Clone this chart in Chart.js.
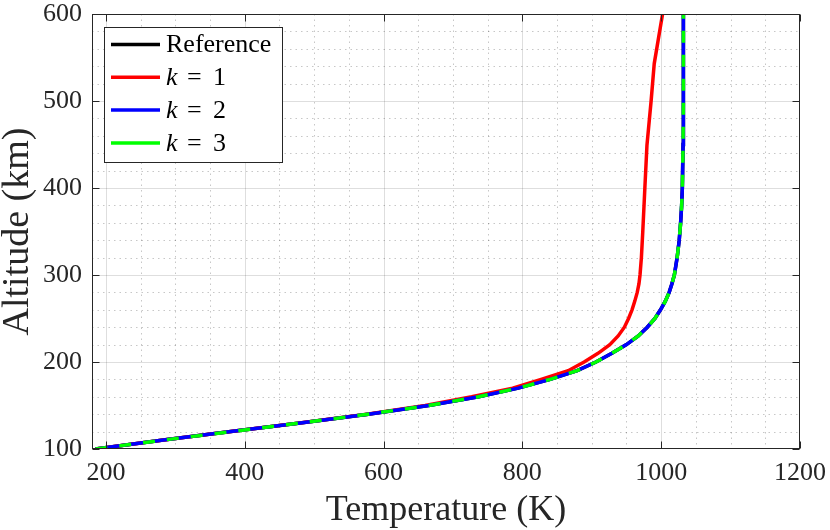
<!DOCTYPE html>
<html><head><meta charset="utf-8">
<script src="https://cdn.jsdelivr.net/npm/chart.js@4"></script>
<style>html,body{margin:0;padding:0;background:#fff;}#wrap{width:830px;height:530px;}</style>
</head><body><div id="wrap"><canvas id="c" width="830" height="530"></canvas></div>
<script>
// ---- data ----
const xTicks = [200, 400, 600, 800, 1000, 1200];
const yTicks = [100, 200, 300, 400, 500, 600];
const xMinor = [250, 300, 350, 450, 500, 550, 650, 700, 750, 850, 900, 950, 1050, 1100, 1150];
const yMinor = [120, 140, 160, 180, 220, 240, 260, 280, 320, 340, 360, 380, 420, 440, 460, 480, 520, 540, 560, 580];

const seriesLabels = ['Reference', 'k = 1', 'k = 2', 'k = 3'];

const refAlt  = [100, 110, 120, 130, 140, 150, 160, 170, 180, 190, 200, 210, 220, 230, 240, 250, 260, 270, 280, 290, 300, 320, 340, 360, 380, 400, 450, 500, 550, 600];
const refTemp = [185, 280, 380, 480, 578, 665, 737, 794, 840, 879, 906, 929, 950, 967, 980, 991, 999, 1006, 1011.5, 1015.5, 1019, 1023, 1026, 1028, 1029.5, 1030.5, 1031.5, 1032, 1032, 1032];

const k1Alt  = [100, 110, 120, 130, 140, 150, 160, 170, 180, 190, 200, 210, 220, 230, 240, 250, 260, 270, 280, 290, 300, 320, 350, 400, 449, 500, 543, 600];
const k1Temp = [185, 280, 380, 479, 576, 660, 727, 786, 827, 866, 889, 909, 926, 938, 947, 953, 958, 962, 965.5, 968, 969.5, 971.5, 973.5, 976.5, 979.5, 985.5, 990, 1002];

const k2Alt  = [100, 110, 120, 130, 140, 150, 160, 170, 180, 190, 200, 210, 220, 230, 240, 250, 260, 270, 280, 290, 300, 320, 340, 360, 380, 400, 450, 500, 550, 600];
const k2Temp = [185, 280, 380, 480, 578, 665, 737, 794, 840, 879, 906, 929, 950, 967, 980, 991, 999, 1006, 1011.5, 1015.5, 1019, 1023, 1026, 1028, 1029.5, 1030.5, 1031.5, 1032, 1032, 1032];

const k3Alt  = [100, 110, 120, 130, 140, 150, 160, 170, 180, 190, 200, 210, 220, 230, 240, 250, 260, 270, 280, 290, 300, 320, 340, 360, 380, 400, 450, 500, 550, 600];
const k3Temp = [185, 280, 380, 480, 578, 665, 737, 794, 840, 879, 906, 929, 950, 967, 980, 991, 999, 1006, 1011.5, 1015.5, 1019, 1023, 1026, 1028, 1029.5, 1030.5, 1031.5, 1032, 1032, 1032];

// ---- helpers ----
const FAM = '"Liberation Serif", "Times New Roman", serif';
const AX = '#262626';
const pts = (t, h) => t.map((v, i) => ({x: v, y: h[i]}));

const gridPlugin = {
  id: 'matlabGrid',
  beforeDatasetsDraw(chart) {
    const {ctx, chartArea: a, scales: {x, y}} = chart;
    ctx.save();
    ctx.beginPath(); ctx.rect(a.left, a.top, a.right - a.left, a.bottom - a.top); ctx.clip();
    ctx.strokeStyle = 'rgba(0,0,0,0.22)'; ctx.lineWidth = 1; ctx.setLineDash([1.5, 4]);
    xMinor.forEach(v => { const px = Math.round(x.getPixelForValue(v)) + 0.5; ctx.beginPath(); ctx.moveTo(px, a.top); ctx.lineTo(px, a.bottom); ctx.stroke(); });
    yMinor.forEach(v => { const py = Math.round(y.getPixelForValue(v)) + 0.5; ctx.beginPath(); ctx.moveTo(a.left, py); ctx.lineTo(a.right, py); ctx.stroke(); });
    ctx.setLineDash([]); ctx.strokeStyle = 'rgba(0,0,0,0.13)';
    xTicks.forEach(v => { const px = Math.round(x.getPixelForValue(v)) + 0.5; ctx.beginPath(); ctx.moveTo(px, a.top); ctx.lineTo(px, a.bottom); ctx.stroke(); });
    yTicks.forEach(v => { const py = Math.round(y.getPixelForValue(v)) + 0.5; ctx.beginPath(); ctx.moveTo(a.left, py); ctx.lineTo(a.right, py); ctx.stroke(); });
    ctx.restore();
  }
};

const framePlugin = {
  id: 'matlabFrame',
  afterDatasetsDraw(chart) {
    const {ctx, chartArea: a, scales: {x, y}} = chart;
    ctx.save();
    ctx.strokeStyle = AX; ctx.lineWidth = 1; ctx.setLineDash([]);
    const L = Math.round(a.left) + 0.5, R = Math.round(a.right) - 0.5, T = Math.round(a.top) + 0.5, B = Math.round(a.bottom) - 0.5;
    ctx.strokeRect(L, T, R - L, B - T);
    const tl = 7;
    ctx.beginPath();
    xTicks.forEach(v => { const px = Math.round(x.getPixelForValue(v)) + 0.5; ctx.moveTo(px, B); ctx.lineTo(px, B - tl); ctx.moveTo(px, T); ctx.lineTo(px, T + tl); });
    yTicks.forEach(v => { const py = Math.round(y.getPixelForValue(v)) + 0.5; ctx.moveTo(L, py); ctx.lineTo(L + tl, py); ctx.moveTo(R, py); ctx.lineTo(R - tl, py); });
    ctx.stroke();
    ctx.restore();
  }
};

const legendPlugin = {
  id: 'boxLegend',
  afterDraw(chart) {
    const {ctx, chartArea: a} = chart;
    const bx = Math.round(a.left) + 12, by = Math.round(a.top) + 13, bw = 178, bh = 135;
    ctx.save();
    ctx.fillStyle = '#fff'; ctx.fillRect(bx, by, bw, bh);
    ctx.strokeStyle = AX; ctx.lineWidth = 1; ctx.strokeRect(bx + 0.5, by + 0.5, bw, bh);
    chart.data.datasets.forEach((ds, i) => {
      const cy = by + 17.5 + i * 32.8;
      ctx.setLineDash([]); ctx.strokeStyle = ds.borderColor; ctx.lineWidth = 3.5;
      ctx.beginPath(); ctx.moveTo(bx + 7, cy); ctx.lineTo(bx + 56, cy); ctx.stroke();
      ctx.fillStyle = '#000'; ctx.textBaseline = 'middle'; ctx.textAlign = 'left';
      const tx = bx + 62;
      const m = /^k = (.*)$/.exec(ds.label);
      if (m) {
        ctx.font = 'italic 26px ' + FAM; ctx.fillText('k', tx, cy + 1);
        ctx.font = '26px ' + FAM; ctx.fillText('=', tx + 21, cy + 1); ctx.fillText(m[1], tx + 47, cy + 1);
      } else {
        ctx.font = '26px ' + FAM; ctx.fillText(ds.label, tx, cy + 1);
      }
    });
    ctx.restore();
  }
};

const common = {showLine: true, pointRadius: 0, pointHoverRadius: 0, borderWidth: 3.5, fill: false, tension: 0};

new Chart(document.getElementById('c'), {
  type: 'scatter',
  data: {
    datasets: [
      Object.assign({label: seriesLabels[0], data: pts(refTemp, refAlt), borderColor: '#000000', order: 4}, common),
      Object.assign({label: seriesLabels[1], data: pts(k1Temp, k1Alt), borderColor: '#ff0000', order: 3}, common),
      Object.assign({label: seriesLabels[2], data: pts(k2Temp, k2Alt), borderColor: '#0000ff', order: 2}, common),
      Object.assign({label: seriesLabels[3], data: pts(k3Temp, k3Alt), borderColor: '#00ff00', borderDash: [12, 12], order: 1}, common)
    ]
  },
  options: {
    responsive: false, animation: false, devicePixelRatio: 1,
    layout: {padding: {left: 0, right: 30, top: 14, bottom: 0}},
    plugins: {legend: {display: false}, tooltip: {enabled: false}},
    scales: {
      x: {
        type: 'linear', min: 180, max: 1200,
        afterBuildTicks: s => { s.ticks = xTicks.map(v => ({value: v})); },
        afterFit: s => { s.height = 81; s.paddingLeft = 0; s.paddingRight = 0; },
        grid: {display: false, drawTicks: false}, border: {display: false},
        ticks: {font: {family: FAM, size: 26, lineHeight: 0.8}, color: AX, padding: 14, maxRotation: 0, autoSkip: false, callback: v => String(v)},
        title: {display: true, text: 'Temperature (K)', font: {family: FAM, size: 36, lineHeight: 1.1}, color: AX, padding: 0}
      },
      y: {
        type: 'linear', min: 100, max: 600,
        afterBuildTicks: s => { s.ticks = yTicks.map(v => ({value: v})); },
        afterFit: s => { s.width = 92; s.paddingTop = 0; s.paddingBottom = 0; },
        grid: {display: false, drawTicks: false}, border: {display: false},
        ticks: {font: {family: FAM, size: 26, lineHeight: 0.8}, color: AX, padding: 10, autoSkip: false, callback: v => String(v)},
        title: {display: true, text: 'Altitude (km)', font: {family: FAM, size: 38, lineHeight: 0.95}, color: AX, padding: 0}
      }
    }
  },
  plugins: [gridPlugin, framePlugin, legendPlugin]
});
</script></body></html>
